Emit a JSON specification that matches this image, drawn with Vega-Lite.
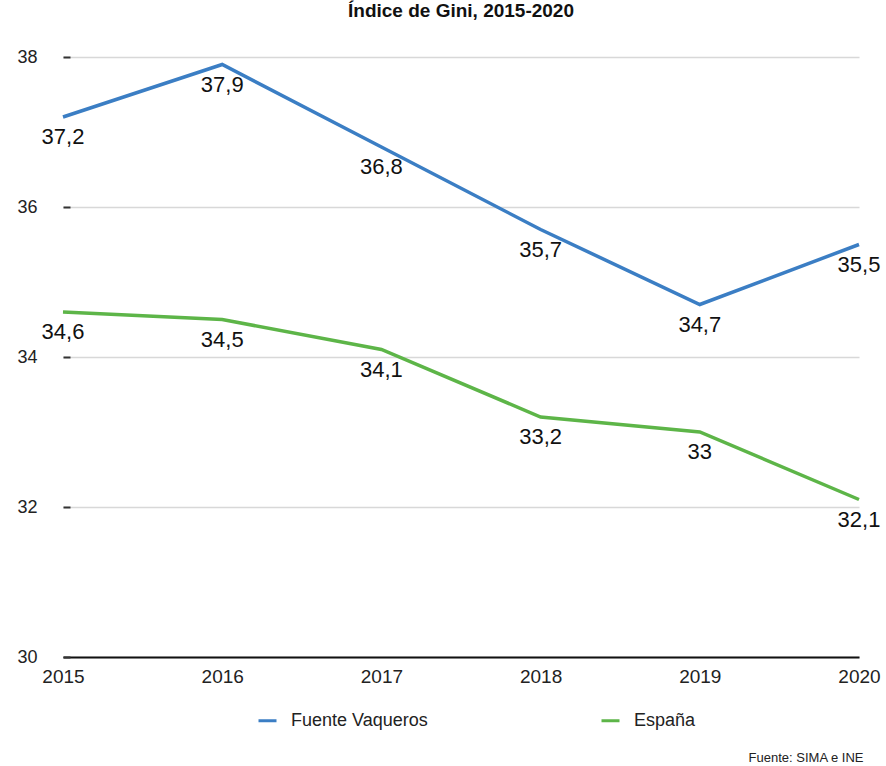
{
  "$schema": "https://vega.github.io/schema/vega-lite/v6.json",
  "width": 796,
  "height": 600,
  "autosize": "none",
  "padding": {"left": 63, "top": 57, "right": 27, "bottom": 109},
  "background": "white",
  "config": {
    "font": "Liberation Sans",
    "view": {"stroke": null},
    "locale": {"number": {"decimal": ",", "thousands": ".", "grouping": [3], "currency": ["", " €"]}}
  },
  "title": {
    "text": "Índice de Gini, 2015-2020",
    "anchor": "middle",
    "fontSize": 19,
    "fontWeight": "bold",
    "color": "#111",
    "offset": 27
  },
  "data": {
    "values": [
      {"year": "2015", "serie": "Fuente Vaqueros", "gini": 37.2},
      {"year": "2016", "serie": "Fuente Vaqueros", "gini": 37.9},
      {"year": "2017", "serie": "Fuente Vaqueros", "gini": 36.8},
      {"year": "2018", "serie": "Fuente Vaqueros", "gini": 35.7},
      {"year": "2019", "serie": "Fuente Vaqueros", "gini": 34.7},
      {"year": "2020", "serie": "Fuente Vaqueros", "gini": 35.5},
      {"year": "2015", "serie": "España", "gini": 34.6},
      {"year": "2016", "serie": "España", "gini": 34.5},
      {"year": "2017", "serie": "España", "gini": 34.1},
      {"year": "2018", "serie": "España", "gini": 33.2},
      {"year": "2019", "serie": "España", "gini": 33.0},
      {"year": "2020", "serie": "España", "gini": 32.1}
    ]
  },
  "encoding": {
    "x": {
      "field": "year",
      "type": "ordinal",
      "scale": {"type": "point", "padding": 0},
      "axis": {
        "labelAngle": 0,
        "labelFontSize": 19,
        "labelColor": "#222",
        "labelPadding": 10,
        "ticks": false,
        "grid": false,
        "domainColor": "#111",
        "domainWidth": 2,
        "title": "Fuente: SIMA e INE",
        "titleFontSize": 13,
        "titleFontWeight": "normal",
        "titleColor": "#222",
        "titleAnchor": null,
        "titleAlign": "right",
        "titleBaseline": "middle",
        "titleX": 800,
        "titleY": 100
      }
    },
    "y": {
      "field": "gini",
      "type": "quantitative",
      "scale": {"domain": [30, 38], "nice": false, "zero": false},
      "axis": {
        "values": [30, 32, 34, 36, 38],
        "domain": false,
        "grid": true,
        "gridColor": "#d8d8d8",
        "gridWidth": 1.5,
        "tickColor": "#333",
        "tickSize": -7,
        "tickWidth": 2,
        "labelFontSize": 18,
        "labelColor": "#222",
        "labelPadding": 33,
        "title": null
      }
    },
    "color": {
      "field": "serie",
      "type": "nominal",
      "sort": ["Fuente Vaqueros", "España"],
      "scale": {"domain": ["Fuente Vaqueros", "España"], "range": ["#3b7ec4", "#5db548"]},
      "legend": {
        "title": null,
        "orient": "none",
        "direction": "horizontal",
        "legendX": 194,
        "legendY": 653,
        "symbolType": "stroke",
        "symbolSize": 324,
        "symbolStrokeWidth": 3,
        "labelFontSize": 18,
        "labelColor": "#222",
        "labelOffset": 13,
        "columnPadding": 167
      }
    }
  },
  "layer": [
    {
      "mark": {"type": "line", "strokeWidth": 3.5}
    },
    {
      "mark": {"type": "text", "fontSize": 22, "dy": 20, "baseline": "middle", "align": "center", "color": "#111"},
      "encoding": {
        "text": {"field": "gini", "type": "quantitative", "format": "~g"},
        "color": {"value": "#111"}
      }
    }
  ]
}
